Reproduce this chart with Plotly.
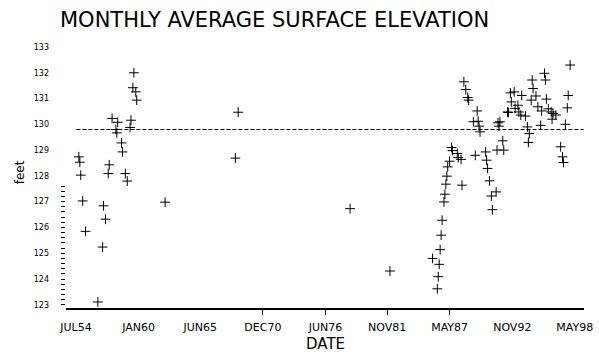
import numpy as np
import plotly.graph_objects as go

# ---- data ----
dates = [
    "1954-10", "1954-11", "1954-12", "1955-02", "1955-05", "1956-06", "1956-11", "1956-12",
    "1957-02", "1957-05", "1957-06", "1957-09", "1958-01", "1958-02", "1958-03", "1958-07",
    "1958-08", "1958-11", "1959-01", "1959-04", "1959-05", "1959-07", "1959-08", "1959-10",
    "1959-11",
    "1962-05", "1968-07", "1968-10", "1978-08", "1982-02",
    "1985-11", "1986-04", "1986-05", "1986-06", "1986-07", "1986-08", "1986-09", "1986-11",
    "1986-12", "1987-01", "1987-02", "1987-03", "1987-05", "1987-07", "1987-08", "1988-01",
    "1988-02", "1988-05", "1988-06", "1988-08", "1988-10", "1988-12", "1989-01", "1989-06",
    "1989-08", "1989-10", "1989-11", "1989-12", "1990-01", "1990-07", "1990-08", "1990-09",
    "1990-11", "1991-01", "1991-02", "1991-06", "1991-07", "1991-08", "1991-09", "1991-10",
    "1992-01", "1992-02", "1992-06", "1992-07", "1992-09", "1992-10", "1993-01", "1993-02",
    "1993-05", "1993-06", "1993-08", "1993-09", "1994-01", "1994-03", "1994-04", "1994-05",
    "1994-07", "1994-08", "1994-09", "1994-12", "1995-02", "1995-05", "1995-06", "1995-09",
    "1995-10", "1995-11", "1996-01", "1996-04", "1996-05", "1996-06", "1996-09", "1997-02",
    "1997-04", "1997-05", "1997-07", "1997-09", "1997-10", "1997-12",
]
elevation = [
    128.74, 128.53, 128.03, 127.03, 125.85, 123.11, 125.24, 126.84,
    126.32, 128.09, 128.43, 130.23, 129.80, 129.67, 130.08, 129.28,
    128.93, 128.09, 127.80, 129.88, 130.16, 131.42, 132.00, 131.26,
    130.94,
    126.98, 128.69, 130.47, 126.73, 124.31,
    124.80, 123.62, 124.09, 124.57, 125.14, 125.70, 126.28, 126.99,
    127.29, 127.68, 127.99, 128.35, 128.57, 129.10, 128.98, 128.87,
    128.71, 128.64, 127.64, 131.65, 131.35, 131.04, 130.94, 130.10,
    128.80, 130.52, 130.12, 129.93, 129.71, 128.93, 128.61, 128.29,
    127.81, 127.22, 126.69, 127.38, 129.00, 130.06, 129.93, 130.10,
    129.36, 129.00, 130.48, 130.46, 131.22, 130.87, 131.26, 130.62,
    130.74, 130.48, 130.36, 131.12, 130.32, 129.90, 129.30, 129.64,
    130.94, 131.72, 131.39, 131.10, 130.68, 129.96, 130.52, 131.98,
    131.72, 130.98, 130.60, 130.48, 130.20, 130.42, 130.36, 129.13,
    128.74, 128.52, 130.00, 130.64, 131.12, 132.30,
]
reference_level = 129.8
reference_span = ["1954-07-15", "1999-02-10"]

tick_dates = ["1954-07-01", "1960-01-01", "1965-06-01", "1970-12-01", "1976-06-01",
              "1981-11-01", "1987-05-01", "1992-11-01", "1998-05-01"]
tick_labels = ["JUL54", "JAN60", "JUN65", "DEC70", "JUN76", "NOV81", "MAY87", "NOV92", "MAY98"]
visible_tick_dates = ["1970-12-01", "1976-06-01", "1981-11-01", "1987-05-01"]
y_ticks = list(range(123, 134))

FONT = "DejaVu Sans"

fig = go.Figure()
fig.add_trace(go.Scatter(
    x=reference_span, y=[reference_level, reference_level], mode="lines",
    line=dict(color="black", width=1, dash="4px,2px"), hoverinfo="skip", showlegend=False))
fig.add_trace(go.Scatter(
    x=dates, y=elevation, mode="markers",
    marker=dict(symbol="cross-thin", size=7, line=dict(color="black", width=1), color="black"),
    showlegend=False))

fig.update_layout(
    width=599, height=354,
    margin=dict(l=66, r=15, t=47, b=46, autoexpand=False),
    paper_bgcolor="white", plot_bgcolor="white",
    font=dict(family=FONT, color="black"),
    title=dict(text="MONTHLY AVERAGE SURFACE ELEVATION", x=60 / 599, xanchor="left",
               y=1 - 20 / 354, yanchor="middle", font=dict(size=21, family=FONT)),
    xaxis=dict(
        type="date", range=["1953-08-14", "1999-02-20"], automargin=False,
        tickmode="array", tickvals=tick_dates, ticktext=tick_labels,
        ticks="", tickfont=dict(size=11), ticklabelstandoff=8,
        showgrid=False, zeroline=False, showline=True, linecolor="black", linewidth=1.5,
        minor=dict(tickmode="array", tickvals=visible_tick_dates, ticks="outside",
                   ticklen=5, tickcolor="black", tickwidth=1, showgrid=False),
    ),
    yaxis=dict(
        range=[122.876, 133.0], automargin=False, tickmode="array", tickvals=y_ticks,
        ticks="", tickfont=dict(size=8), ticklabelstandoff=16,
        showgrid=False, zeroline=False, showline=False,
        minor=dict(tickmode="array", tickvals=[round(v, 1) for v in np.arange(123.0, 127.7, 0.2)],
                   ticks="outside", ticklen=4, tickcolor="black", tickwidth=1, showgrid=False),
    ),
    annotations=[
        dict(text="DATE", xref="paper", yref="paper", x=(325 - 66) / 518, y=(307.7 - 344) / 261,
             showarrow=False, xanchor="center", yanchor="middle", font=dict(size=15, family=FONT)),
        dict(text="feet", xref="paper", yref="paper", x=(20 - 66) / 518, y=(307.7 - 172) / 261,
             showarrow=False, textangle=-90, xanchor="center", yanchor="middle",
             font=dict(size=12, family=FONT)),
    ],
)

fig.write_html("out.html", config={"displayModeBar": False},
               post_script="document.body.style.margin='0';")
